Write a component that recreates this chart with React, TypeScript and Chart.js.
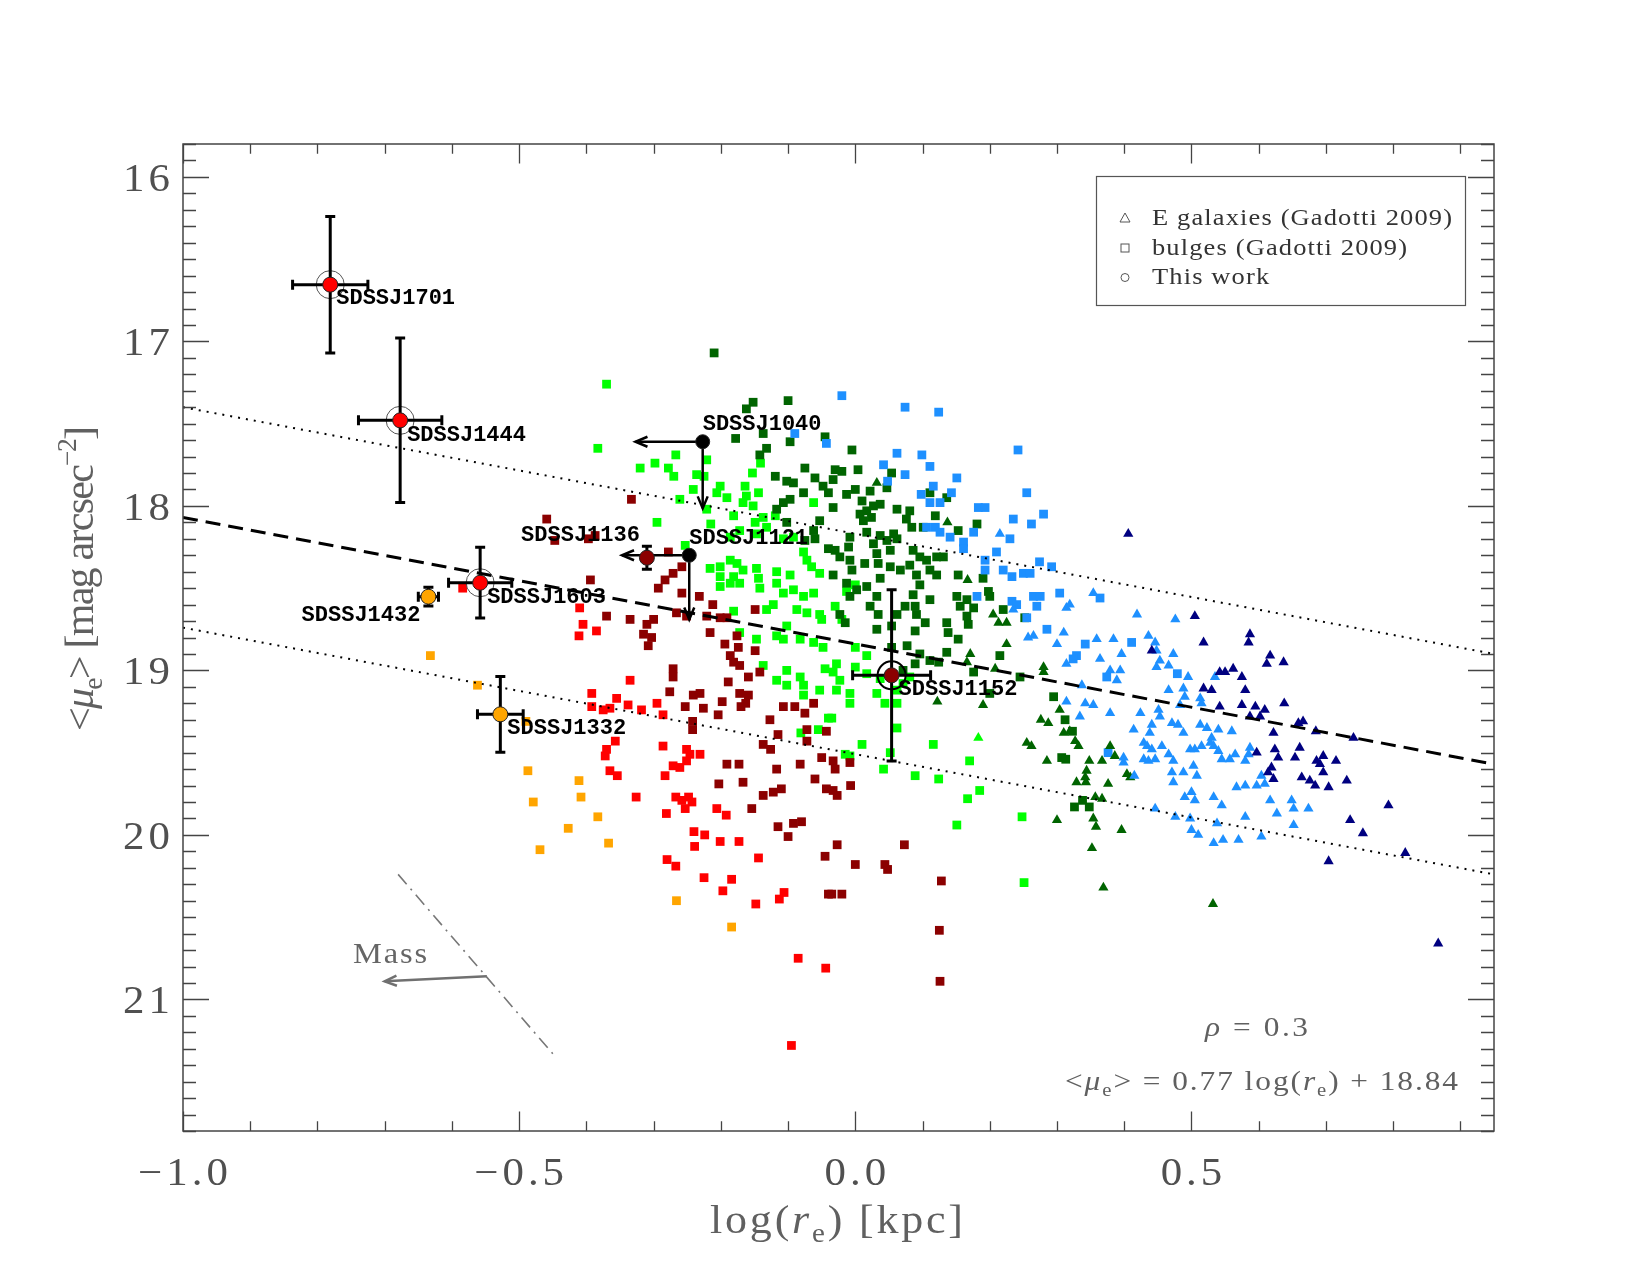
import React, { useEffect, useRef } from 'react';
import { Chart, registerables } from 'chart.js';
Chart.register(...registerables);

// ---------------- axes ----------------
const X_MIN = -1.0;
const X_MAX = 0.95;
const Y_MIN = 15.8;
const Y_MAX = 21.8;
const xMajorTicks = [-1.0, -0.5, 0.0, 0.5];
const xTickLabels = ['\u22121.0', '\u22120.5', '0.0', '0.5'];
const yMajorTicks = [16, 17, 18, 19, 20, 21];
const yTickLabels = ['16', '17', '18', '19', '20', '21'];

// ---------------- fit line & scatter band ----------------
const fitX = [-1.0, 0.95];
const fitY = [18.07, 19.57];
const upperBandY = [17.4, 18.9];
const lowerBandY = [18.74, 20.24];

// ---------------- mass direction annotation ----------------
const massLineX = [-0.68, -0.45];
const massLineY = [20.24, 21.33];
const massArrowX = [-0.548, -0.7];
const massArrowY = [20.86, 20.89];
const massTextPos = [-0.692, 20.72];

// ---------------- this work ----------------
const twNames = ['SDSSJ1701', 'SDSSJ1444', 'SDSSJ1603', 'SDSSJ1432', 'SDSSJ1332', 'SDSSJ1136', 'SDSSJ1121', 'SDSSJ1040', 'SDSSJ1152'];
const twLogRe = [-0.781, -0.677, -0.558, -0.635, -0.528, -0.31, -0.247, -0.227, 0.054];
const twMu = [16.655, 17.48, 18.467, 18.552, 19.267, 18.315, 18.3, 17.61, 19.03];
const twLogReErr = [0.056, 0.062, 0.047, 0.015, 0.034, 0, 0, 0, 0.058];
const twMuErr = [0.415, 0.5, 0.215, 0.057, 0.23, 0.07, 0, 0, 0.52];
const twLimitDx = [0, 0, 0, 0, 0, 0, -0.1, -0.1, 0];
const twLimitDy = [0, 0, 0, 0, 0, 0, 0.39, 0.405, 0];
const twColors = ['#ff0000', '#ff0000', '#ff0000', '#ffa500', '#ffa500', '#8b0000', '#000000', '#000000', '#8b0000'];
const twRing = [true, true, true, false, false, false, false, false, true];

// ---------------- Gadotti 2009 bulges (squares) ----------------
const limeBulges: [number, number][] = [
  [-0.370,17.26],[-0.383,17.65],[-0.267,17.69],[-0.320,17.77],[-0.298,17.74],[-0.278,17.77],[-0.270,17.82],[-0.236,17.81],[-0.225,17.82],[-0.221,17.72],[-0.153,17.80],[-0.141,17.74],
  [-0.241,17.90],[-0.261,17.96],[-0.206,17.92],[-0.201,17.88],[-0.191,17.95],[-0.164,17.88],[-0.162,17.94],[-0.144,17.92],[-0.167,17.98],[-0.152,18.00],[-0.221,18.02],[-0.062,17.98],
  [-0.295,18.10],[-0.215,18.11],[-0.181,18.06],[-0.149,18.10],[-0.137,18.07],[-0.119,18.06],[-0.253,18.24],[-0.186,18.19],[-0.172,18.15],[-0.147,18.17],[-0.132,18.13],[-0.107,18.20],[-0.092,18.19],
  [-0.216,18.38],[-0.201,18.37],[-0.186,18.33],[-0.176,18.35],[-0.167,18.39],[-0.147,18.38],[-0.181,18.43],[-0.201,18.43],[-0.117,18.40],[-0.097,18.42],[-0.077,18.28],[-0.072,18.33],[-0.065,18.37],[-0.053,18.41],
  [-0.201,18.49],[-0.186,18.47],[-0.172,18.47],[-0.144,18.44],[-0.142,18.50],[-0.117,18.47],[-0.107,18.53],[-0.092,18.51],[-0.077,18.55],[-0.062,18.53],
  [-0.181,18.64],[-0.132,18.63],[-0.122,18.60],[-0.087,18.63],[-0.072,18.65],[-0.053,18.66],[-0.050,18.69],
  [-0.172,18.77],[-0.147,18.81],[-0.117,18.79],[-0.107,18.81],[-0.102,18.73],[-0.082,18.81],[-0.062,18.83],[-0.048,18.86],
  [-0.137,18.97],[-0.102,19.00],[-0.082,19.04],[-0.117,19.06],[-0.102,19.09],[-0.077,19.09],[-0.045,18.99],[-0.053,19.12],[-0.077,19.15],
  [-0.028,18.96],[0.000,18.86],[0.017,18.91],[0.000,18.98],[-0.023,19.06],[-0.033,19.01],[0.000,18.48],[-0.013,18.52],[-0.030,18.61],[-0.020,18.69],[0.017,19.02],[0.037,19.05],[-0.008,19.14],[0.032,19.14],[0.062,19.12],[0.071,19.08],[0.081,19.04],[-0.028,19.12],
  [-0.081,19.38],[-0.055,19.36],[-0.040,19.29],
  [-0.008,19.20],[0.044,19.20],[0.062,19.20],[-0.035,19.29],[0.062,19.35],[0.010,19.45],[-0.015,19.51],[-0.008,19.52],[0.052,19.50],[0.042,19.60],[0.089,19.64],[0.124,19.66],[0.116,19.45],[0.170,19.55],[0.185,19.73],[0.167,19.78],[0.151,19.94],[0.248,19.89],[0.251,20.29],
];

const darkGreenBulges: [number, number][] = [
  [-0.210,17.07],[-0.162,17.41],[-0.152,17.37],[-0.100,17.36],[-0.178,17.59],[-0.097,17.61],[-0.142,17.69],[-0.132,17.65],[-0.075,17.77],[-0.060,17.83],[-0.119,17.82],[-0.102,17.85],[-0.092,17.86],[-0.077,17.92],[-0.048,17.88],[-0.040,17.92],[-0.107,17.98],[-0.097,17.96],[-0.117,18.02],[-0.102,18.10],[-0.053,18.09],[-0.062,18.15],[-0.075,18.21],[-0.060,18.20],[-0.040,18.26],[-0.045,17.58],[-0.137,17.56],
  [-0.005,17.66],[-0.030,17.78],[-0.020,17.79],[0.004,17.78],[0.054,17.80],[-0.033,17.84],[-0.013,17.93],[0.000,17.90],[0.022,17.91],[0.047,17.89],[0.010,17.97],[0.027,18.00],[0.037,17.99],[-0.033,18.01],[0.007,18.05],[0.017,18.03],[0.062,18.02],[0.081,18.03],[0.012,18.09],[0.024,18.07],[0.076,18.08],[0.084,18.13],[0.119,18.06],[0.111,17.92],[0.136,17.95],
  [0.017,18.16],[0.037,18.18],[0.057,18.17],[-0.008,18.19],[0.027,18.23],[0.047,18.21],[0.062,18.20],[-0.010,18.25],[-0.030,18.27],[-0.023,18.31],[0.032,18.29],[0.052,18.27],[0.086,18.27],[0.096,18.31],[0.106,18.33],[0.121,18.31],[0.131,18.31],[0.101,18.13],[0.153,18.15],[0.181,18.11],
  [-0.008,18.33],[-0.005,18.39],[-0.033,18.42],[0.014,18.35],[0.034,18.35],[0.052,18.37],[0.067,18.39],[0.081,18.36],[0.091,18.42],[0.111,18.39],[0.121,18.42],[0.153,18.42],[0.190,18.44],[0.037,18.44],[-0.013,18.47],[0.017,18.49],[0.002,18.51],[-0.008,18.55],[0.032,18.55],[0.096,18.48],[0.111,18.57],[0.086,18.54],[0.151,18.55],[0.166,18.57],[0.198,18.52],[0.200,18.55],
  [-0.023,18.66],[-0.015,18.71],[0.022,18.61],[0.034,18.66],[0.074,18.61],[0.089,18.61],[0.062,18.66],[0.091,18.66],[0.104,18.71],[0.136,18.71],[0.166,18.67],[0.156,18.61],[0.176,18.62],[0.220,18.63],[0.252,18.68],[0.032,18.75],[0.054,18.73],[0.089,18.76],[0.138,18.77],[0.153,18.81],[0.168,18.72],
  [0.054,18.86],[0.077,18.85],[0.096,18.90],[0.111,18.94],[0.136,18.89],[0.124,18.95],[0.176,19.01],[0.215,18.91],[0.245,19.04],[0.200,19.14],[0.295,19.16],[0.089,18.96],[0.071,19.00],
  [0.312,19.30],[0.323,19.37],[0.307,19.53],[0.313,19.54],[0.326,19.83],[0.338,19.79],[0.348,19.83],
];

const blueBulges: [number, number][] = [
  [-0.090,17.56],[-0.043,17.62],
  [-0.020,17.33],[0.074,17.40],[0.124,17.43],[0.242,17.66],[0.062,17.68],[0.099,17.69],[0.042,17.75],[0.074,17.81],[0.111,17.76],[0.151,17.83],[0.048,17.85],[0.098,17.93],[0.116,17.88],[0.143,17.92],[0.111,17.98],[0.126,17.98],[0.183,18.01],[0.193,18.01],[0.255,17.92],[0.235,18.08],[0.262,18.11],[0.280,18.05],
  [0.106,18.13],[0.119,18.13],[0.126,18.16],[0.141,18.19],[0.176,18.16],[0.161,18.22],[0.161,18.26],[0.230,18.20],[0.193,18.33],[0.210,18.28],[0.193,18.39],[0.220,18.39],[0.233,18.43],[0.250,18.41],[0.260,18.41],[0.274,18.34],[0.292,18.37],
  [0.181,18.55],[0.233,18.58],[0.240,18.60],[0.265,18.55],[0.275,18.55],[0.270,18.61],[0.304,18.53],[0.364,18.56],[0.285,18.75],[0.342,18.84],[0.411,18.83],[0.329,18.91],[0.324,18.93],[0.374,19.04],[0.255,18.68],
  [0.479,19.02],[0.376,19.50],
];

const redBulges: [number, number][] = [
  [-0.584,18.50],
  [-0.410,18.62],[-0.405,18.72],[-0.385,18.76],[-0.411,18.79],[-0.335,19.06],[-0.392,19.14],[-0.355,19.17],
  [-0.392,19.22],[-0.375,19.24],[-0.365,19.23],[-0.338,19.21],[-0.318,19.24],[-0.295,19.20],[-0.286,19.27],[-0.357,19.43],[-0.370,19.48],[-0.372,19.52],[-0.365,19.61],[-0.354,19.64],[-0.286,19.46],[-0.251,19.48],[-0.246,19.51],[-0.231,19.51],[-0.251,19.55],[-0.271,19.58],[-0.261,19.59],[-0.283,19.64],
  [-0.326,19.77],[-0.267,19.77],[-0.258,19.79],[-0.248,19.77],[-0.243,19.80],[-0.253,19.84],[-0.281,19.87],[-0.206,19.84],[-0.192,19.88],[-0.240,19.98],[-0.224,20.00],[-0.239,20.07],[-0.201,20.04],[-0.173,20.04],[-0.144,20.14],[-0.280,20.15],[-0.267,20.19],[-0.225,20.26],[-0.184,20.27],[-0.197,20.34],[-0.148,20.42],[-0.113,20.39],[-0.106,20.35],[-0.085,20.75],[-0.044,20.81],[-0.095,21.28],
];

const darkRedBulges: [number, number][] = [
  [-0.333,17.96],[-0.459,18.08],[-0.447,18.21],[-0.397,18.20],[-0.387,18.18],[-0.278,18.28],[-0.258,18.37],[-0.271,18.41],[-0.283,18.45],[-0.293,18.50],[-0.394,18.45],[-0.258,18.53],[-0.232,18.55],[-0.212,18.60],[-0.335,18.69],[-0.370,18.67],[-0.310,18.72],[-0.300,18.69],[-0.315,18.78],[-0.303,18.80],[-0.308,18.85],[-0.216,18.77],
  [-0.266,18.65],[-0.251,18.67],[-0.221,18.67],[-0.201,18.68],[-0.191,18.68],[-0.194,18.84],[-0.176,18.79],[-0.174,18.86],[-0.149,18.63],[-0.149,18.88],[-0.271,18.99],[-0.271,19.04],[-0.186,18.91],[-0.181,18.95],[-0.172,18.97],[-0.159,19.04],[-0.189,19.07],[-0.142,19.01],[-0.276,19.13],[-0.241,19.15],[-0.231,19.14],[-0.172,19.14],[-0.159,19.15],
  [-0.253,19.22],[-0.226,19.23],[-0.204,19.27],[-0.198,19.19],[-0.170,19.22],[-0.163,19.20],[-0.127,19.30],[-0.107,19.22],[-0.090,19.22],[-0.075,19.26],[-0.062,19.20],[-0.043,19.37],[-0.072,19.36],[-0.072,19.43],[-0.115,19.39],[-0.137,19.45],[-0.126,19.48],[-0.242,19.31],[-0.242,19.36],
  [-0.191,19.57],[-0.173,19.57],[-0.203,19.69],[-0.167,19.68],[-0.117,19.60],[-0.137,19.76],[-0.122,19.74],[-0.110,19.72],[-0.082,19.57],[-0.060,19.66],[-0.050,19.53],[-0.043,19.72],[-0.154,19.84],[-0.115,19.95],[-0.092,19.93],[-0.080,19.92],[-0.100,20.01],[-0.045,20.13],[-0.040,20.36],
  [-0.033,19.55],[-0.030,19.60],[-0.008,19.56],[-0.007,19.70],[-0.033,19.73],[-0.027,19.76],[-0.027,20.06],[0.000,20.18],[0.044,20.18],[0.048,20.21],[0.073,20.06],[0.128,20.28],[-0.035,20.36],[-0.020,20.36],[0.125,20.58],[0.126,20.89],
];

const orangeBulges: [number, number][] = [
  [-0.487,19.61],[-0.411,19.67],[-0.408,19.77],[-0.479,19.80],[-0.383,19.89],[-0.427,19.96],[-0.367,20.05],[-0.469,20.09],[-0.266,20.40],[-0.184,20.56],[-0.632,18.91],[-0.562,19.09],[-0.490,19.31],
];

// ---------------- Gadotti 2009 ellipticals (triangles) ----------------
const limeEllipticals: [number, number][] = [[0.183,19.41]];

const darkGreenEllipticals: [number, number][] = [
  [0.032,17.86],[0.137,18.10],[0.167,18.45],[0.205,18.66],[0.225,18.71],[0.213,18.71],[0.225,18.84],[0.171,18.90],[0.166,18.95],[0.208,18.99],[0.280,18.98],[0.280,19.01],
  [0.122,19.19],[0.190,19.21],[0.276,19.30],[0.287,19.32],[0.304,19.24],[0.319,19.37],[0.310,19.38],[0.327,19.43],[0.332,19.46],[0.255,19.44],[0.262,19.46],[0.285,19.55],[0.348,19.55],[0.367,19.55],[0.386,19.52],[0.379,19.46],[0.344,19.61],[0.342,19.65],[0.329,19.68],[0.343,19.68],[0.376,19.69],[0.404,19.63],[0.409,19.65],[0.357,19.77],[0.367,19.78],[0.300,19.91],[0.354,19.90],[0.358,19.95],[0.396,19.97],[0.352,20.08],[0.369,20.32],
  [0.532,20.42],
];

const blueEllipticals: [number, number][] = [
  [0.215,18.17],[0.354,18.53],[0.314,18.62],[0.319,18.60],[0.419,18.66],[0.235,18.63],[0.257,18.80],[0.265,18.79],[0.310,18.77],[0.300,18.84],[0.359,18.81],[0.384,18.81],[0.396,18.90],[0.364,18.93],[0.436,18.79],[0.446,18.83],[0.314,18.96],[0.379,19.00],[0.394,19.00],[0.389,19.06],[0.448,18.98],[0.337,19.09],[0.448,18.88],
  [0.476,18.69],[0.473,18.90],[0.453,18.94],[0.466,18.97],[0.495,19.04],[0.535,19.04],[0.466,19.12],[0.488,19.11],[0.490,19.16],[0.513,19.17],
  [0.314,19.19],[0.342,19.20],[0.354,19.21],[0.379,19.26],[0.334,19.28],[0.424,19.26],[0.451,19.24],[0.414,19.36],[0.441,19.33],[0.438,19.38],[0.429,19.44],[0.434,19.46],[0.441,19.48],[0.429,19.54],[0.436,19.55],[0.446,19.54],[0.399,19.53],[0.399,19.56],[0.415,19.64],[0.446,19.84],
  [0.453,19.28],[0.471,19.32],[0.480,19.33],[0.488,19.38],[0.513,19.33],[0.523,19.35],[0.540,19.36],[0.560,19.37],[0.456,19.46],[0.466,19.51],[0.473,19.55],[0.471,19.62],[0.473,19.68],[0.488,19.62],[0.498,19.48],[0.505,19.48],[0.515,19.46],[0.528,19.44],[0.533,19.46],[0.530,19.41],[0.540,19.49],[0.545,19.54],[0.557,19.54],[0.565,19.51],[0.580,19.55],[0.585,19.51],[0.587,19.47],
  [0.503,19.58],[0.508,19.64],[0.490,19.77],[0.500,19.74],[0.505,19.79],[0.533,19.77],[0.545,19.82],[0.567,19.71],[0.580,19.70],[0.597,19.70],[0.609,19.69],[0.604,19.64],[0.617,19.79],[0.649,19.79],[0.652,19.84],[0.627,19.87],[0.674,19.84],[0.476,19.89],[0.498,19.90],[0.538,19.93],[0.580,19.89],[0.652,19.94],[0.500,19.97],[0.510,20.00],[0.533,20.05],[0.547,20.03],[0.570,20.03],[0.604,20.01],[0.483,19.21],[0.515,19.20],
];

const navyEllipticals: [number, number][] = [
  [0.406,18.17],[0.441,18.88],
  [0.505,18.67],[0.518,18.83],[0.587,18.78],[0.585,18.83],[0.617,18.91],[0.612,18.96],[0.637,18.95],[0.542,19.01],[0.550,19.01],[0.562,18.99],[0.575,19.04],[0.518,19.11],[0.530,19.12],[0.580,19.12],
  [0.542,19.22],[0.575,19.21],[0.595,19.22],[0.609,19.24],[0.587,19.28],[0.602,19.28],[0.638,19.20],[0.659,19.32],[0.666,19.31],[0.685,19.37],[0.741,19.41],[0.622,19.38],[0.597,19.50],[0.624,19.48],[0.629,19.53],[0.619,19.59],[0.614,19.62],[0.654,19.53],[0.661,19.47],[0.664,19.65],[0.676,19.67],[0.686,19.55],[0.696,19.52],[0.691,19.57],[0.696,19.62],[0.684,19.70],[0.704,19.71],[0.715,19.55],[0.731,19.67],[0.622,19.66],
  [0.736,19.91],[0.755,19.99],[0.793,19.82],[0.818,20.11],[0.704,20.16],[0.867,20.66],
];

// ---------------- layout / styling (not data) ----------------
const SERIF = "'Liberation Serif', 'DejaVu Serif', serif";
const MONO = "'Liberation Mono', 'DejaVu Sans Mono', monospace";
const labelLayout = [
  { dx: 6, dy: 14, align: 'left' },
  { dx: 7, dy: 15, align: 'left' },
  { dx: 7, dy: 15, align: 'left' },
  { dx: -8, dy: 19, align: 'right' },
  { dx: 7, dy: 14, align: 'left' },
  { dx: -7, dy: -22, align: 'right' },
  { dx: 0, dy: -17, align: 'left' },
  { dx: 0, dy: -17, align: 'left' },
  { dx: 7, dy: 14, align: 'left' },
];

type Seg = { t: string; it?: boolean; sub?: boolean; sup?: boolean };

function segFont(size: number, s: Seg) {
  const sz = s.sub || s.sup ? size * 0.66 : size;
  return `${s.it ? 'italic ' : ''}${sz}px ${SERIF}`;
}
function measureRich(ctx: CanvasRenderingContext2D, segs: Seg[], size: number, sx: number) {
  let w = 0;
  let n = 0;
  for (const s of segs) {
    ctx.font = segFont(size, s);
    for (const ch of s.t) {
      w += ctx.measureText(ch).width * sx;
      n++;
    }
  }
  return { w, n };
}
function fitSpacing(ctx: CanvasRenderingContext2D, segs: Seg[], size: number, target: number, sx: number) {
  const { w, n } = measureRich(ctx, segs, size, sx);
  return n > 1 ? (target - w) / (n - 1) : 0;
}
function drawRich(ctx: CanvasRenderingContext2D, segs: Seg[], x: number, y: number, size: number, spacing: number, align: string, sx: number) {
  const { w, n } = measureRich(ctx, segs, size, sx);
  const total = w + spacing * (n - 1);
  let cx = align === 'left' ? x : align === 'center' ? x - total / 2 : x - total;
  ctx.textAlign = 'left';
  ctx.textBaseline = 'alphabetic';
  for (const s of segs) {
    ctx.font = segFont(size, s);
    const dy = s.sub ? size * 0.22 : s.sup ? -size * 0.42 : 0;
    for (const ch of s.t) {
      ctx.save();
      ctx.translate(cx, y + dy);
      ctx.scale(sx, 1);
      ctx.fillText(ch, 0, 0);
      ctx.restore();
      cx += ctx.measureText(ch).width * sx + spacing;
    }
  }
}

function arrowHead(ctx: CanvasRenderingContext2D, x0: number, y0: number, x1: number, y1: number, len: number, half: number) {
  const ang = Math.atan2(y1 - y0, x1 - x0);
  const c = Math.cos(ang);
  const s = Math.sin(ang);
  ctx.beginPath();
  ctx.moveTo(x1 - len * c - half * s, y1 - len * s + half * c);
  ctx.lineTo(x1, y1);
  ctx.lineTo(x1 - len * c + half * s, y1 - len * s - half * c);
  ctx.stroke();
}

const annotPlugin = {
  id: 'annotations',
  beforeDatasetDraw(chart: any, args: any) {
    if (args.index !== 0) return;
    const ctx: CanvasRenderingContext2D = chart.ctx;
    const xs = chart.scales.x;
    const ys = chart.scales.y;
    ctx.save();
    ctx.strokeStyle = '#000';
    ctx.lineCap = 'butt';
    for (let i = 0; i < twNames.length; i++) {
      const px = xs.getPixelForValue(twLogRe[i]);
      const py = ys.getPixelForValue(twMu[i]);
      ctx.lineWidth = 3;
      if (twLogReErr[i] > 0) {
        const a = xs.getPixelForValue(twLogRe[i] - twLogReErr[i]);
        const b = xs.getPixelForValue(twLogRe[i] + twLogReErr[i]);
        ctx.beginPath();
        ctx.moveTo(a, py); ctx.lineTo(b, py);
        ctx.moveTo(a, py - 5); ctx.lineTo(a, py + 5);
        ctx.moveTo(b, py - 5); ctx.lineTo(b, py + 5);
        ctx.stroke();
      }
      if (twMuErr[i] > 0) {
        const a = ys.getPixelForValue(twMu[i] - twMuErr[i]);
        const b = ys.getPixelForValue(twMu[i] + twMuErr[i]);
        ctx.beginPath();
        ctx.moveTo(px, a); ctx.lineTo(px, b);
        ctx.moveTo(px - 5, a); ctx.lineTo(px + 5, a);
        ctx.moveTo(px - 5, b); ctx.lineTo(px + 5, b);
        ctx.stroke();
      }
      ctx.lineWidth = 2.5;
      if (twLimitDx[i] !== 0) {
        const ex = xs.getPixelForValue(twLogRe[i] + twLimitDx[i]);
        ctx.beginPath(); ctx.moveTo(px, py); ctx.lineTo(ex, py); ctx.stroke();
        arrowHead(ctx, px, py, ex, py, 12, 5);
      }
      if (twLimitDy[i] !== 0) {
        const ey = ys.getPixelForValue(twMu[i] + twLimitDy[i]);
        ctx.beginPath(); ctx.moveTo(px, py); ctx.lineTo(px, ey); ctx.stroke();
        arrowHead(ctx, px, py, px, ey, 12, 5);
      }
    }
    ctx.restore();
  },
  afterDatasetsDraw(chart: any) {
    const ctx: CanvasRenderingContext2D = chart.ctx;
    const xs = chart.scales.x;
    const ys = chart.scales.y;
    const ca = chart.chartArea;
    ctx.save();

    // mass arrow head and text
    ctx.strokeStyle = '#707070';
    ctx.lineWidth = 2.5;
    arrowHead(ctx, xs.getPixelForValue(massArrowX[0]), ys.getPixelForValue(massArrowY[0]), xs.getPixelForValue(massArrowX[1]), ys.getPixelForValue(massArrowY[1]), 12, 5);
    ctx.fillStyle = '#666';
    const massSegs: Seg[] = [{ t: 'Mass' }];
    drawRich(ctx, massSegs, xs.getPixelForValue(massTextPos[0]), ys.getPixelForValue(massTextPos[1]) + 10, 29, fitSpacing(ctx, massSegs, 29, 74, 1.12), 'center', 1.12);

    // point labels
    ctx.fillStyle = '#000';
    ctx.font = `bold 22px ${MONO}`;
    ctx.textBaseline = 'middle';
    for (let i = 0; i < twNames.length; i++) {
      const px = xs.getPixelForValue(twLogRe[i]);
      const py = ys.getPixelForValue(twMu[i]);
      const L = labelLayout[i];
      ctx.textAlign = L.align as CanvasTextAlign;
      ctx.fillText(twNames[i], px + L.dx, py + L.dy);
    }

    // frame
    ctx.strokeStyle = '#444';
    ctx.lineWidth = 1.5;
    ctx.strokeRect(ca.left, ca.top, ca.right - ca.left, ca.bottom - ca.top);
    ctx.lineWidth = 1.3;
    ctx.beginPath();
    for (let k = 0; k <= 19; k++) {
      const v = -1 + k * 0.1;
      if (v > X_MAX + 1e-9) break;
      const px = Math.round(xs.getPixelForValue(v)) + 0.5;
      const major = k % 5 === 0;
      const len = major ? 19.5 : 9.8;
      ctx.moveTo(px, ca.bottom); ctx.lineTo(px, ca.bottom - len);
      ctx.moveTo(px, ca.top); ctx.lineTo(px, ca.top + len);
    }
    for (let k = 158; k <= 218; k++) {
      const v = k / 10;
      const py = Math.round(ys.getPixelForValue(v)) + 0.5;
      const major = k % 10 === 0;
      const len = major ? 26 : 13;
      ctx.moveTo(ca.left, py); ctx.lineTo(ca.left + len, py);
      ctx.moveTo(ca.right, py); ctx.lineTo(ca.right - len, py);
    }
    ctx.stroke();

    // tick labels
    ctx.fillStyle = '#505050';
    for (let i = 0; i < xMajorTicks.length; i++) {
      const segs: Seg[] = [{ t: xTickLabels[i] }];
      drawRich(ctx, segs, xs.getPixelForValue(xMajorTicks[i]), ca.bottom + 54, 39, 4, 'center', 1.1);
    }
    for (let i = 0; i < yMajorTicks.length; i++) {
      const segs: Seg[] = [{ t: yTickLabels[i] }];
      drawRich(ctx, segs, ca.left - 13, ys.getPixelForValue(yMajorTicks[i]) + 14, 39, 4, 'right', 1.1);
    }

    // axis titles
    ctx.fillStyle = '#606060';
    const xTitle: Seg[] = [{ t: 'log(' }, { t: 'r', it: true }, { t: 'e', sub: true }, { t: ') [kpc]' }];
    drawRich(ctx, xTitle, (ca.left + ca.right) / 2 - 2, ca.bottom + 102, 40, fitSpacing(ctx, xTitle, 40, 253, 1.1), 'center', 1.1);
    const yTitle: Seg[] = [{ t: '<' }, { t: '\u03bc', it: true }, { t: 'e', sub: true }, { t: '> [mag arcsec' }, { t: '\u22122', sup: true }, { t: ']' }];
    ctx.save();
    ctx.translate(93, (ca.top + ca.bottom) / 2 - 59);
    ctx.rotate(-Math.PI / 2);
    drawRich(ctx, yTitle, 0, 0, 40, fitSpacing(ctx, yTitle, 40, 305, 1.05), 'center', 1.05);
    ctx.restore();

    // correlation text
    ctx.fillStyle = '#606060';
    const rho: Seg[] = [{ t: '\u03c1', it: true }, { t: ' = 0.3' }];
    drawRich(ctx, rho, 1256.5, 1036, 28, fitSpacing(ctx, rho, 28, 103, 1.12), 'center', 1.12);
    const eq: Seg[] = [{ t: '<' }, { t: '\u03bc', it: true }, { t: 'e', sub: true }, { t: '> = 0.77 log(' }, { t: 'r', it: true }, { t: 'e', sub: true }, { t: ') + 18.84' }];
    drawRich(ctx, eq, 1261.5, 1090, 28, fitSpacing(ctx, eq, 28, 393, 1.12), 'center', 1.12);

    // legend
    ctx.strokeStyle = '#555';
    ctx.lineWidth = 1.2;
    ctx.strokeRect(1096.5, 176.5, 369, 129);
    ctx.lineWidth = 1;
    ctx.beginPath();
    ctx.moveTo(1125, 213); ctx.lineTo(1130, 222); ctx.lineTo(1120, 222); ctx.closePath();
    ctx.stroke();
    ctx.strokeRect(1121, 244, 8, 8);
    ctx.beginPath(); ctx.arc(1125, 277.5, 4, 0, Math.PI * 2); ctx.stroke();
    ctx.fillStyle = '#333';
    const l1: Seg[] = [{ t: 'E galaxies (Gadotti 2009)' }];
    const l2: Seg[] = [{ t: 'bulges (Gadotti 2009)' }];
    const l3: Seg[] = [{ t: 'This work' }];
    const ls = fitSpacing(ctx, l1, 23, 300, 1.15);
    drawRich(ctx, l1, 1152, 225, 23, ls, 'left', 1.15);
    drawRich(ctx, l2, 1152, 254.5, 23, ls, 'left', 1.15);
    drawRich(ctx, l3, 1152, 284, 23, ls, 'left', 1.15);

    ctx.restore();
  },
};

const pts = (arr: [number, number][]) => arr.map(([x, y]) => ({ x, y }));
const squares = (arr: [number, number][], color: string) => ({
  type: 'scatter' as const,
  data: pts(arr),
  pointStyle: 'rect',
  pointRadius: 6.2,
  pointBackgroundColor: color,
  pointBorderColor: color,
  pointBorderWidth: 0,
  borderWidth: 0,
});
const triangles = (arr: [number, number][], color: string) => ({
  type: 'scatter' as const,
  data: pts(arr),
  pointStyle: 'triangle',
  pointRadius: 5.9,
  pointBackgroundColor: color,
  pointBorderColor: color,
  pointBorderWidth: 0,
  borderWidth: 0,
});
const lineDs = (xs: number[], ys: number[], color: string, width: number, dash: number[]) => ({
  type: 'line' as const,
  data: xs.map((x, i) => ({ x, y: ys[i] })),
  borderColor: color,
  borderWidth: width,
  borderDash: dash,
  pointRadius: 0,
  fill: false,
  tension: 0,
  showLine: true,
});

export default function App() {
  const ref = useRef<HTMLCanvasElement | null>(null);
  useEffect(() => {
    if (!ref.current) return;
    const datasets: any[] = [
      {
        type: 'scatter',
        data: twLogRe.map((x, i) => ({ x, y: twMu[i] })),
        pointStyle: 'circle',
        pointRadius: twColors.map((c) => (c === '#000000' ? 7 : 7.5)),
        pointBackgroundColor: twColors,
        pointBorderColor: '#222',
        pointBorderWidth: 1,
        borderWidth: 1,
      },
      {
        type: 'scatter',
        data: twLogRe.map((x, i) => ({ x, y: twMu[i] })).filter((_, i) => twRing[i]),
        pointStyle: 'circle',
        pointRadius: 14,
        pointBackgroundColor: 'rgba(0,0,0,0)',
        pointBorderColor: twNames.filter((_, i) => twRing[i]).map((n) => (n === 'SDSSJ1152' ? '#000' : '#555')),
        pointBorderWidth: twNames.filter((_, i) => twRing[i]).map((n) => (n === 'SDSSJ1152' ? 2 : 1)),
      },
      lineDs(fitX, fitY, '#000', 3, [15, 8]),
      lineDs(fitX, upperBandY, '#000', 2, [2, 6]),
      lineDs(fitX, lowerBandY, '#000', 2, [2, 6]),
      lineDs(massLineX, massLineY, '#777', 1.6, [13, 6, 2, 6]),
      lineDs(massArrowX, massArrowY, '#707070', 2.5, []),
      triangles(navyEllipticals, '#000080'),
      triangles(blueEllipticals, '#1e90ff'),
      triangles(darkGreenEllipticals, '#006400'),
      triangles(limeEllipticals, '#00ff00'),
      squares(blueBulges, '#1e90ff'),
      squares(darkGreenBulges, '#006400'),
      squares(darkRedBulges, '#8b0000'),
      squares(limeBulges, '#00ff00'),
      squares(redBulges, '#ff0000'),
      squares(orangeBulges, '#ffa500'),
    ];
    const chart = new Chart(ref.current, {
      type: 'scatter',
      data: { datasets },
      options: {
        animation: false,
        responsive: false,
        devicePixelRatio: 1,
        events: [],
        layout: { padding: { left: 183, right: 156, top: 144, bottom: 144 } },
        plugins: { legend: { display: false }, tooltip: { enabled: false } },
        scales: {
          x: { type: 'linear', min: X_MIN, max: X_MAX, display: false },
          y: { type: 'linear', min: Y_MIN, max: Y_MAX, reverse: true, display: false },
        },
      },
      plugins: [annotPlugin],
    } as any);
    return () => chart.destroy();
  }, []);
  return (
    <div style={{ position: 'absolute', left: 0, top: 0, width: 1650, height: 1275, background: '#fff' }}>
      <canvas ref={ref} width={1650} height={1275} style={{ display: 'block', width: 1650, height: 1275 }} />
    </div>
  );
}
